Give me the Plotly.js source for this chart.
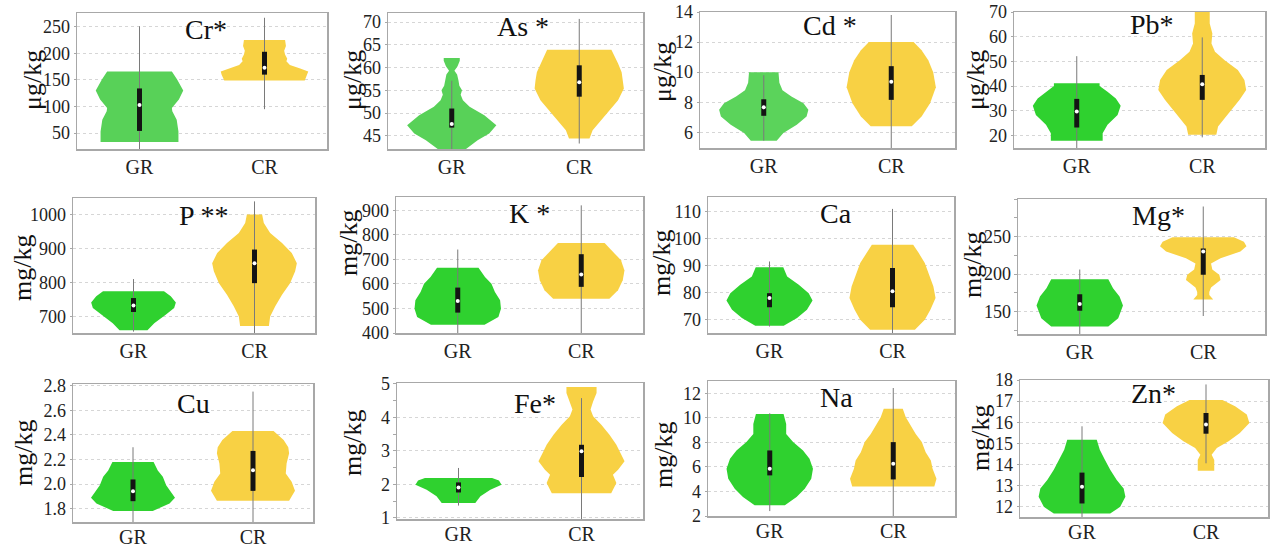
<!DOCTYPE html>
<html><head><meta charset="utf-8">
<script src="https://cdn.plot.ly/plotly-3.0.1.min.js"></script>
<style>html,body{margin:0;padding:0;background:#fff}#chart{width:1271px;height:549px}</style>
</head><body><div id="chart"></div>
<script>
const elements = ['Cr','As','Cd','Pb','P','K','Ca','Mg','Cu','Fe','Na','Zn'];
const panelTitles = ['Cr*','As *','Cd *','Pb*','P **','K *','Ca','Mg*','Cu','Fe*','Na','Zn*'];
const unitLabels = ['μg/kg','μg/kg','μg/kg','μg/kg','mg/kg','mg/kg','mg/kg','mg/kg','mg/kg','mg/kg','mg/kg','mg/kg'];
const groups = ['GR','CR'];

// violin profiles: value levels and relative density (width) at each level
const grLevels = [
  [33,53,75,91,97,113,130,151,166],
  [40.5,42,44,45.5,47.3,49.5,51.4,52.8,54,55,56,57.2,58.5,59.3,60.3,61.5,62.1],
  [5.45,5.96,6.5,7.06,7.5,7.94,8.38,8.8,9.3,10.0],
  [17.85,20.9,24.3,28.3,32,35,37.7,40,41.1],
  [659,680,705,725,741,759,774],
  [434,465,499,533,567,601,628,666],
  [67.8,70.6,73.7,77.1,79.8,82.9,86,89.4],
  [130,141,158,170,181,193],
  [1.78,1.84,1.887,1.936,1.99,2.06,2.11,2.18],
  [1.45,1.65,1.84,1.99,2.12,2.19],
  [2.87,3.54,4.22,5.04,5.85,6.66,7.34,8.02,8.69,9.5,10.32],
  [11.68,12.0,12.48,12.87,13.27,13.75,14.22,14.7,15.17]
];
const grDensity = [
  [0.89,0.89,0.85,0.75,0.74,0.9,1.0,0.86,0.74],
  [0.1,0.3,0.58,0.84,1.0,0.73,0.4,0.25,0.2,0.23,0.17,0.15,0.12,0.06,0.13,0.18,0.18],
  [0.29,0.44,0.74,0.96,1.0,0.89,0.62,0.42,0.35,0.33],
  [0.59,0.59,0.7,0.93,1.0,0.89,0.7,0.52,0.52],
  [0.33,0.49,0.76,0.96,1.0,0.88,0.72],
  [0.62,0.94,1.0,0.98,0.86,0.78,0.63,0.48],
  [0.33,0.64,0.87,1.0,0.91,0.68,0.41,0.32],
  [0.66,0.89,1.0,0.92,0.77,0.66],
  [0.47,0.87,1.0,0.9,0.79,0.71,0.59,0.49],
  [0.39,0.51,0.74,1.0,0.94,0.78],
  [0.35,0.62,0.81,0.96,1.0,0.92,0.77,0.54,0.38,0.38,0.32],
  [0.65,0.88,1.0,0.96,0.8,0.65,0.53,0.41,0.34]
];
const crLevels = [
  [149,160,166,172,178,185,190,198,205,214,225],
  [44.4,46.2,48.4,50.6,52.8,55.4,57.2,59,60.9,63.1,63.9],
  [6.4,7.06,7.94,9.0,10.0,10.8,11.46,12.0],
  [20.3,23.6,27,30.3,34.4,38.4,42.4,46.5,50.5,53.9,57.2,61.3,65.3,72],
  [672,700,730,764,798,833,857,887,916,946,975,1000],
  [540,574,615,655,696,730,767],
  [66.3,70,73.7,78,82.3,86.6,90.9,94.6,97.7],
  [166,172,176,182,192,199,206,214,221,230,237,243,249],
  [1.863,1.944,2.018,2.086,2.168,2.25,2.30,2.36,2.432],
  [1.74,2.04,2.29,2.44,2.69,2.94,3.18,3.48,3.78,4.03,4.23,4.47,4.72,4.9],
  [4.41,5.04,5.85,6.53,7.2,8.02,8.69,9.37,10.05,10.73],
  [13.71,14.22,14.46,14.78,15.1,15.49,15.97,16.37,16.76,17.05]
];
const crDensity = [
  [0.92,0.98,1.0,0.8,0.58,0.5,0.52,0.47,0.45,0.49,0.47],
  [0.23,0.3,0.49,0.68,0.87,1.0,0.98,0.95,0.87,0.76,0.72],
  [0.46,0.68,0.87,1.0,0.94,0.83,0.68,0.5],
  [0.32,0.36,0.51,0.66,0.85,1.0,0.96,0.81,0.51,0.29,0.21,0.23,0.17,0.17],
  [0.34,0.37,0.49,0.65,0.84,0.96,1.0,0.88,0.65,0.37,0.22,0.18],
  [0.65,0.85,0.96,1.0,0.92,0.73,0.54],
  [0.52,0.75,0.88,1.0,0.95,0.85,0.75,0.61,0.48],
  [0.23,0.14,0.14,0.18,0.4,0.37,0.21,0.18,0.4,0.86,1.0,0.94,0.71],
  [0.86,1.0,0.92,0.78,0.8,0.86,0.84,0.73,0.49],
  [0.69,0.81,0.73,0.85,1.0,0.9,0.81,0.65,0.46,0.27,0.21,0.27,0.35,0.35],
  [0.95,1.0,0.91,0.87,0.75,0.66,0.52,0.41,0.29,0.22],
  [0.19,0.19,0.13,0.25,0.52,0.78,1.0,0.94,0.67,0.38]
];
// box stats: [whisker low, Q1, median, Q3, whisker high]
const grBox = [
  [15,54,103,134,251],
  [41,46.8,47.6,51,57.1],
  [5.45,7.1,7.67,8.2,9.8],
  [14,23.2,29.7,34.8,52.1],
  [655,713,732,754,810],
  [395,483,530,585,740],
  [67.5,74.6,78,79.8,91.5],
  [118,151,160,173,206],
  [1.65,1.86,1.94,2.037,2.30],
  [1.37,1.76,1.91,2.06,2.49],
  [2.4,5.31,5.85,7.34,10.37],
  [11.4,12.16,12.95,13.62,15.81]
];
const crBox = [
  [95,160,173,203,267],
  [43.3,53.6,56.8,60.5,70.7],
  [4.5,8.16,9.37,10.4,13.8],
  [19.2,34.4,40.7,44.5,59.7],
  [645,798,857,897,1039],
  [395,588,638,721,920],
  [64,74.6,80.5,89.1,110.9],
  [144,199,230,234,290],
  [1.65,1.944,2.113,2.27,2.754],
  [0.9,2.22,2.99,3.18,4.57],
  [1.9,4.98,6.25,8.02,12.43],
  [14.06,15.46,15.89,16.44,17.79]
];
const yTickVals = [
  [50,100,150,200,250],
  [45,50,55,60,65,70],
  [6,8,10,12,14],
  [20,30,40,50,60,70],
  [700,800,900,1000],
  [400,500,600,700,800,900],
  [70,80,90,100,110],
  [150,200,250],
  [1.8,2.0,2.2,2.4,2.6,2.8],
  [1,2,3,4,5],
  [2,4,6,8,10,12],
  [12,13,14,15,16,17,18]
];

// ---- layout configuration ----
const W = 1271, H = 549;
const boxesPx = [ // left, right, top, bottom
  [77,327,13,149],[388,643,13,149],[700,955,12,148],[1014,1265,12,148],
  [73,315,198,333],[396,643,197,333],[708,954,197,333],[1018,1265,199,334],
  [73,313,384,522],[397,643,383,519],[708,955,381,516],[1020,1268,380,517]
];
const yRanges = [[20,276],[42.1,72],[4.96,14],[14.9,70],[651,1049],[400,954],[65.1,115.3],[120,300],[1.69,2.816],[0.97,5.02],[2,13],[11.52,18]];
const titlePos = [[0.516,0.875],[0.53,0.9],[0.51,0.9],[0.55,0.91],[0.54,0.87],[0.54,0.88],[0.52,0.88],[0.57,0.88],[0.50,0.86],[0.56,0.85],[0.52,0.88],[0.54,0.9]];
const unitPos = [[32,80],[352,80],[662,72],[975,80],[22,268],[348,243],[662,263],[972,265],[23,453],[352,443],[663,455],[980,438]];
const minorDt = [null,null,null,null,null,null,null,25,null,0.5,null,null];
const grColors = ['#58D158','#58D158','#5BD35B','#2FD12F','#2FD12F','#2FD12F','#2FD12F','#2FD12F','#2FD12F','#2FD12F','#2FD12F','#2FD12F'];
const crColor = '#F8D144';
const halfW = 0.35;
const font = 'Liberation Serif';

const traces = [];
const layout = {
  width: W, height: H, margin: {l:0,r:0,t:0,b:0},
  paper_bgcolor: '#fff', plot_bgcolor: '#fff', showlegend: false,
  font: {family: font, color: '#222'},
  annotations: []
};

function violin(center, levels, dens, color, xa, ya) {
  const xs = [], ys = [];
  for (let k = 0; k < levels.length; k++) { xs.push(center + dens[k]*halfW); ys.push(levels[k]); }
  for (let k = levels.length-1; k >= 0; k--) { xs.push(center - dens[k]*halfW); ys.push(levels[k]); }
  return {type:'scatter', mode:'lines', x: xs, y: ys, fill:'toself', fillcolor: color,
          line:{width:0, color: color}, xaxis: xa, yaxis: ya, hoverinfo:'skip'};
}

for (let i = 0; i < 12; i++) {
  const sfx = i === 0 ? '' : String(i+1);
  const xa = 'x' + sfx, ya = 'y' + sfx;
  const [l, r, t, b] = boxesPx[i];
  traces.push(violin(0, grLevels[i], grDensity[i], grColors[i], xa, ya));
  traces.push(violin(1, crLevels[i], crDensity[i], crColor, xa, ya));
  const bx = [grBox[i], crBox[i]];
  traces.push({type:'scatter', mode:'lines', x:[0,0,null,1,1], y:[bx[0][0],bx[0][4],null,bx[1][0],bx[1][4]],
    line:{color:'#7a7a7a', width:1}, xaxis:xa, yaxis:ya, hoverinfo:'skip'});
  traces.push({type:'scatter', mode:'lines', x:[0,0,null,1,1], y:[bx[0][1],bx[0][3],null,bx[1][1],bx[1][3]],
    line:{color:'#141414', width:5}, xaxis:xa, yaxis:ya, hoverinfo:'skip'});
  traces.push({type:'scatter', mode:'markers', x:[0,1], y:[bx[0][2],bx[1][2]],
    marker:{color:'#fff', size:4, line:{width:0}}, xaxis:xa, yaxis:ya, hoverinfo:'skip', cliponaxis:true});

  layout['xaxis'+sfx] = {
    domain:[l/W, r/W], anchor: ya, range:[-0.5,1.5], fixedrange:true,
    tickmode:'array', tickvals:[0,1], ticktext: groups, showgrid:false, zeroline:false,
    showline:true, mirror:true, linecolor:'#a8a8a8', linewidth:1.5,
    ticks:'', tickfont:{family:font, size:20, color:'#222'},
    ticklabelstandoff: i >= 8 ? -4 : -1
  };
  const yax = {
    domain:[1-b/H, 1-t/H], anchor: xa, range: yRanges[i], fixedrange:true,
    tickmode:'array', tickvals: yTickVals[i], showgrid:true, gridcolor:'#d6d6d6', griddash:'dot', gridwidth:1,
    zeroline:false, showline:true, mirror:true, linecolor:'#a8a8a8', linewidth:1.5,
    ticks:'outside', ticklen:2, tickcolor:'#a8a8a8',
    tickfont:{family:font, size:18, color:'#222'}
  };
  if (i === 8) yax.tickformat = '.1f';
  if (minorDt[i]) yax.minor = {dtick: minorDt[i], ticks:'outside', ticklen:3, tickcolor:'#a8a8a8', showgrid:false};
  layout['yaxis'+sfx] = yax;

  layout.annotations.push({xref: xa+' domain', yref: ya+' domain', x: titlePos[i][0], y: titlePos[i][1],
    text: panelTitles[i], showarrow:false, xanchor:'center', yanchor:'middle',
    font:{family:font, size:28, color:'#111'}});
  layout.annotations.push({xref:'paper', yref:'paper', x: unitPos[i][0]/W, y: 1-unitPos[i][1]/H,
    text: unitLabels[i], textangle:-90, showarrow:false, xanchor:'center', yanchor:'middle',
    font:{family:font, size:26, color:'#111'}});
}

Plotly.newPlot('chart', traces, layout, {staticPlot:true, displayModeBar:false});
</script>
</body></html>
